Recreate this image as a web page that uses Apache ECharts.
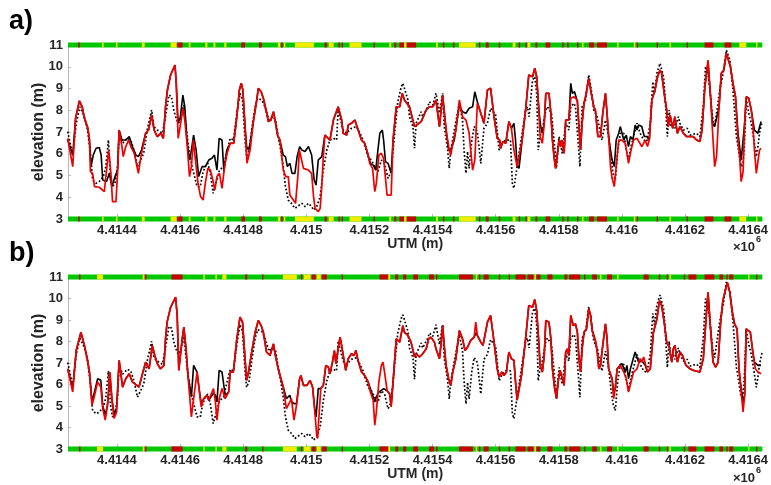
<!DOCTYPE html>
<html><head><meta charset="utf-8">
<script src="https://cdn.jsdelivr.net/npm/echarts@6/dist/echarts.min.js"></script>
<style>html,body{margin:0;padding:0;background:#fff}#c{width:771px;height:485px}</style>
</head><body><div id="c"></div>
<script>
// [UTM northing (m), elevation (m)]
// reference profile (dotted black, same in both panels)
const refDotted = [
[4414244,7.02],[4414260,5.94],[4414271,7.40],[4414283,8.16],[4414297,7.70],[4414307,7.09],[4414315,6.17],[4414323,4.79],[4414334,4.64],[4414344,4.72],
[4414357,4.95],[4414365,5.41],[4414373,6.63],[4414379,5.10],[4414386,4.49],[4414394,4.64],[4414402,5.41],[4414407,6.94],[4414418,6.48],[4414433,6.71],
[4414444,6.63],[4414454,6.17],[4414465,5.41],[4414475,5.71],[4414485,6.02],[4414496,7.09],[4414510,8.01],[4414517,7.25],[4414528,7.09],[4414544,6.94],
[4414554,7.70],[4414565,8.70],[4414573,8.62],[4414580,8.01],[4414586,7.70],[4414594,7.40],[4414601,7.55],[4414612,8.24],[4414619,7.25],[4414628,6.17],
[4414638,5.41],[4414654,4.49],[4414664,4.49],[4414672,5.10],[4414680,5.41],[4414688,5.56],[4414696,5.10],[4414705,4.18],[4414714,4.64],[4414725,5.25],
[4414738,5.41],[4414745,5.87],[4414759,6.71],[4414769,6.63],[4414780,7.86],[4414790,8.78],[4414798,8.47],[4414806,6.63],[4414811,5.87],[4414819,6.17],
[4414827,7.09],[4414838,8.16],[4414846,8.55],[4414859,8.47],[4414869,8.16],[4414882,7.55],[4414892,7.70],[4414903,7.55],[4414911,6.79],[4414919,6.17],
[4414927,5.41],[4414934,4.49],[4414943,3.87],[4414953,3.72],[4414964,3.49],[4414986,3.72],[4414996,3.57],[4415007,3.72],[4415017,3.57],[4415023,3.41],
[4415033,3.57],[4415044,4.03],[4415054,5.25],[4415065,6.17],[4415075,6.63],[4415086,6.71],[4415096,6.63],[4415101,8.01],[4415107,7.93],[4415117,7.09],
[4415128,6.94],[4415143,7.17],[4415159,7.25],[4415170,6.94],[4415180,6.63],[4415196,5.87],[4415206,5.71],[4415217,5.41],[4415227,5.18],[4415238,5.71],
[4415248,5.56],[4415259,4.87],[4415269,5.18],[4415280,6.94],[4415290,8.39],[4415301,9.08],[4415306,9.24],[4415311,9.01],[4415322,8.47],[4415327,7.70],
[4415338,7.25],[4415343,6.25],[4415348,7.40],[4415364,7.93],[4415369,7.70],[4415385,8.16],[4415390,8.39],[4415401,8.24],[4415411,8.78],[4415422,7.86],
[4415432,8.78],[4415437,7.25],[4415448,6.17],[4415453,5.33],[4415458,6.17],[4415469,7.09],[4415485,8.32],[4415495,7.55],[4415500,6.17],[4415506,5.10],
[4415511,6.10],[4415516,5.33],[4415524,6.56],[4415532,7.25],[4415542,7.02],[4415553,5.56],[4415563,7.17],[4415574,7.40],[4415584,8.09],[4415600,7.78],
[4415611,6.17],[4415621,6.48],[4415632,6.63],[4415647,6.63],[4415653,4.64],[4415658,4.41],[4415668,5.41],[4415684,6.94],[4415695,8.01],[4415701,8.16],
[4415706,7.70],[4415717,9.39],[4415724,9.54],[4415730,8.78],[4415735,6.17],[4415741,6.79],[4415748,7.09],[4415759,8.01],[4415764,8.16],[4415777,7.86],
[4415785,6.63],[4415793,5.41],[4415801,6.79],[4415811,6.02],[4415822,7.40],[4415832,7.09],[4415838,8.16],[4415848,8.32],[4415853,8.16],[4415861,6.63],
[4415867,5.41],[4415874,8.16],[4415885,8.47],[4415895,9.62],[4415903,8.93],[4415911,8.01],[4415922,7.70],[4415930,7.09],[4415937,6.63],[4415948,7.55],
[4415958,6.79],[4415966,5.71],[4415972,5.10],[4415979,4.79],[4415987,6.17],[4415995,6.94],[4416006,6.94],[4416014,6.17],[4416021,5.71],[4416029,6.33],
[4416037,6.79],[4416048,7.40],[4416058,6.94],[4416069,6.63],[4416079,6.56],[4416090,7.40],[4416098,9.31],[4416103,8.78],[4416111,9.70],[4416121,10.16],
[4416132,9.54],[4416137,8.62],[4416144,6.79],[4416150,8.01],[4416155,7.25],[4416163,7.40],[4416168,7.17],[4416179,7.70],[4416184,7.40],[4416195,7.09],
[4416207,7.17],[4416216,6.86],[4416237,6.94],[4416247,6.79],[4416258,8.16],[4416265,10.00],[4416273,9.70],[4416281,8.62],[4416287,7.70],[4416294,7.25],
[4416300,7.32],[4416310,8.93],[4416321,9.70],[4416331,10.77],[4416342,10.31],[4416352,8.93],[4416363,6.79],[4416368,6.33],[4416378,5.41],[4416384,5.56],
[4416389,6.63],[4416394,8.55],[4416402,7.86],[4416410,7.40],[4416420,6.48],[4416426,5.87],[4416431,6.33],[4416436,6.94],[4416444,7.48]];

// panel a, black solid
const blackA = [
[4414244,6.65],[4414260,5.94],[4414269,7.63],[4414281,8.43],[4414290,8.16],[4414297,7.63],[4414308,7.17],[4414313,6.63],[4414318,5.41],[4414325,5.94],
[4414334,6.25],[4414344,6.29],[4414350,5.94],[4414355,4.79],[4414367,4.72],[4414376,5.10],[4414384,4.49],[4414394,4.95],[4414402,5.25],[4414407,7.09],
[4414416,6.63],[4414428,6.63],[4414439,6.79],[4414449,6.33],[4414460,5.94],[4414468,5.87],[4414478,6.17],[4414491,6.94],[4414500,7.09],[4414510,7.78],
[4414518,7.09],[4414528,6.79],[4414539,6.94],[4414547,6.71],[4414554,8.16],[4414560,8.93],[4414570,9.62],[4414575,9.70],[4414584,10.08],[4414588,9.24],
[4414594,7.40],[4414601,7.70],[4414609,8.70],[4414615,8.16],[4414622,6.63],[4414630,5.71],[4414636,6.17],[4414643,6.86],[4414651,6.17],[4414659,4.95],
[4414670,5.41],[4414680,5.41],[4414691,5.71],[4414701,5.79],[4414709,5.94],[4414717,5.25],[4414724,6.71],[4414733,6.63],[4414739,5.18],[4414748,6.17],
[4414759,6.48],[4414770,6.48],[4414780,7.70],[4414788,8.93],[4414794,9.24],[4414799,8.93],[4414806,7.25],[4414811,6.33],[4414817,6.17],[4414822,6.48],
[4414833,7.55],[4414843,8.47],[4414848,9.01],[4414857,8.85],[4414864,8.55],[4414872,8.01],[4414880,7.48],[4414888,7.55],[4414896,7.93],[4414901,7.55],
[4414909,6.86],[4414916,6.63],[4414927,5.94],[4414934,5.87],[4414940,5.41],[4414948,5.56],[4414955,5.10],[4414964,5.10],[4414971,5.87],[4414979,6.33],
[4414986,6.17],[4414996,6.10],[4415007,6.33],[4415017,5.94],[4415025,4.79],[4415031,4.56],[4415038,5.71],[4415049,5.87],[4415059,6.86],[4415065,6.94],
[4415075,6.63],[4415086,7.55],[4415101,8.16],[4415107,8.24],[4415112,7.55],[4415117,6.94],[4415128,6.86],[4415133,7.32],[4415143,7.40],[4415154,7.55],
[4415159,7.32],[4415175,6.63],[4415185,6.48],[4415196,5.94],[4415203,5.56],[4415212,5.48],[4415220,5.25],[4415227,6.17],[4415233,6.94],[4415241,7.09],
[4415245,6.63],[4415251,5.64],[4415259,5.56],[4415269,5.10],[4415275,6.63],[4415285,8.16],[4415296,8.16],[4415304,8.78],[4415311,8.47],[4415317,8.39],
[4415327,8.16],[4415332,7.86],[4415343,7.25],[4415348,7.32],[4415364,7.48],[4415380,8.01],[4415390,8.16],[4415401,8.16],[4415411,8.47],[4415422,7.25],
[4415432,8.70],[4415443,7.09],[4415451,6.17],[4415458,6.17],[4415469,6.63],[4415485,8.24],[4415495,7.93],[4415506,7.86],[4415516,8.09],[4415527,8.16],
[4415534,8.85],[4415542,8.39],[4415553,7.86],[4415563,7.40],[4415574,8.93],[4415584,9.01],[4415595,7.70],[4415605,6.71],[4415613,6.63],[4415616,6.25],
[4415623,6.56],[4415632,6.48],[4415642,7.48],[4415650,7.17],[4415658,7.40],[4415663,6.63],[4415668,5.48],[4415674,5.33],[4415684,6.63],[4415695,8.01],
[4415705,9.62],[4415709,9.70],[4415717,9.54],[4415724,9.93],[4415730,9.54],[4415738,7.86],[4415743,7.25],[4415748,6.94],[4415754,7.40],[4415759,8.78],
[4415769,8.78],[4415775,7.86],[4415780,6.63],[4415785,5.87],[4415790,5.33],[4415796,5.25],[4415801,6.63],[4415806,6.33],[4415811,6.63],[4415817,6.02],
[4415822,7.55],[4415832,7.55],[4415838,9.24],[4415843,8.78],[4415850,8.85],[4415859,8.39],[4415864,7.25],[4415869,6.17],[4415874,7.40],[4415880,8.32],
[4415885,8.62],[4415895,9.47],[4415903,8.78],[4415911,8.16],[4415916,8.01],[4415924,6.79],[4415932,6.79],[4415940,7.93],[4415948,8.78],[4415953,7.86],
[4415958,6.79],[4415964,6.17],[4415969,5.71],[4415976,5.41],[4415982,6.63],[4415990,6.94],[4415995,7.25],[4416006,6.63],[4416014,6.86],[4416021,6.33],
[4416027,6.79],[4416035,6.63],[4416042,7.32],[4416048,7.09],[4416053,7.32],[4416063,7.25],[4416071,6.79],[4416079,6.79],[4416087,6.63],[4416095,8.47],
[4416105,8.93],[4416113,9.54],[4416121,9.85],[4416126,9.70],[4416134,8.78],[4416142,8.01],[4416147,7.25],[4416153,7.78],[4416161,7.17],[4416168,7.70],
[4416176,6.94],[4416184,7.25],[4416195,6.94],[4416205,6.79],[4416226,6.79],[4416237,6.63],[4416247,6.56],[4416254,7.09],[4416263,9.08],[4416273,10.2],
[4416281,8.62],[4416287,7.40],[4416294,7.25],[4416300,7.17],[4416308,8.16],[4416315,9.70],[4416323,9.85],[4416331,10.62],[4416336,10.69],[4416344,10.00],
[4416352,9.24],[4416360,8.62],[4416368,6.94],[4416378,5.71],[4416384,5.71],[4416389,7.40],[4416394,8.62],[4416402,8.55],[4416410,8.01],[4416415,7.55],
[4416420,7.09],[4416431,6.94],[4416441,7.48]];

// panel a, red solid
const redA = [
[4414244,6.71],[4414260,5.41],[4414269,7.63],[4414281,8.43],[4414290,8.16],[4414297,7.63],[4414308,7.17],[4414313,6.63],[4414316,5.18],[4414323,5.10],
[4414329,4.49],[4414344,4.46],[4414360,4.26],[4414365,4.26],[4414374,6.17],[4414381,5.10],[4414386,3.80],[4414397,3.80],[4414402,5.10],[4414407,7.09],
[4414416,6.33],[4414420,5.87],[4414428,6.33],[4414437,6.63],[4414444,6.33],[4414455,6.02],[4414468,5.10],[4414476,5.87],[4414491,6.94],[4414500,7.09],
[4414510,7.78],[4414518,7.09],[4414528,6.79],[4414539,6.94],[4414547,6.71],[4414554,8.16],[4414560,8.93],[4414570,9.62],[4414575,9.70],[4414584,10.08],
[4414588,9.24],[4414594,6.71],[4414602,7.40],[4414609,8.09],[4414615,7.55],[4414623,6.33],[4414630,4.95],[4414636,5.41],[4414642,6.63],[4414649,5.71],
[4414657,4.64],[4414665,4.03],[4414673,3.87],[4414680,4.64],[4414688,5.33],[4414696,5.25],[4414704,4.79],[4414710,4.33],[4414717,4.95],[4414725,5.10],
[4414733,4.41],[4414741,5.41],[4414749,6.02],[4414759,6.48],[4414770,6.48],[4414780,7.70],[4414788,8.93],[4414794,9.24],[4414799,8.93],[4414806,7.25],
[4414812,5.56],[4414817,5.48],[4414822,6.17],[4414833,7.55],[4414843,8.47],[4414848,9.01],[4414857,8.85],[4414864,8.55],[4414873,8.01],[4414880,7.48],
[4414888,7.55],[4414896,7.93],[4414901,7.55],[4414909,6.86],[4414917,6.63],[4414927,5.25],[4414935,4.95],[4414943,4.95],[4414948,4.10],[4414959,3.87],
[4414966,3.72],[4414974,5.10],[4414978,6.17],[4414991,5.33],[4415007,5.25],[4415017,5.10],[4415023,4.03],[4415028,3.49],[4415038,3.34],[4415044,3.49],
[4415049,4.49],[4415054,5.87],[4415059,6.86],[4415065,6.94],[4415075,6.63],[4415086,7.55],[4415101,8.16],[4415107,8.24],[4415112,7.55],[4415117,6.94],
[4415128,6.86],[4415133,7.32],[4415143,7.40],[4415154,7.55],[4415159,7.32],[4415175,6.63],[4415185,6.48],[4415196,5.94],[4415201,5.56],[4415210,5.33],
[4415217,4.26],[4415222,4.64],[4415230,5.94],[4415238,6.02],[4415245,5.79],[4415256,4.10],[4415269,4.10],[4415275,6.63],[4415285,8.16],[4415296,8.16],
[4415304,8.78],[4415311,8.47],[4415317,8.39],[4415327,8.16],[4415332,7.86],[4415343,7.25],[4415348,7.32],[4415364,7.48],[4415380,8.01],[4415390,8.16],
[4415401,8.16],[4415411,8.47],[4415422,7.25],[4415432,8.70],[4415443,7.09],[4415453,6.17],[4415458,5.94],[4415464,6.48],[4415474,7.09],[4415485,8.47],
[4415495,7.70],[4415506,7.55],[4415516,6.94],[4415527,5.25],[4415534,5.71],[4415542,8.32],[4415553,7.86],[4415563,7.40],[4415574,8.93],[4415584,9.01],
[4415595,7.70],[4415605,6.71],[4415613,6.63],[4415616,6.25],[4415623,6.56],[4415632,6.48],[4415642,7.48],[4415650,7.17],[4415658,6.17],[4415668,5.41],
[4415674,5.33],[4415684,6.63],[4415695,8.01],[4415705,9.62],[4415709,9.70],[4415717,9.54],[4415724,9.93],[4415730,9.54],[4415736,8.16],[4415741,6.79],
[4415748,6.48],[4415754,7.40],[4415759,8.78],[4415769,8.78],[4415775,7.86],[4415780,6.63],[4415785,5.87],[4415790,5.33],[4415796,5.25],[4415801,6.63],
[4415806,6.33],[4415811,6.63],[4415817,6.02],[4415822,7.55],[4415832,7.55],[4415838,8.55],[4415848,8.62],[4415859,8.47],[4415864,7.25],[4415869,6.17],
[4415874,7.40],[4415880,8.32],[4415885,8.62],[4415895,9.47],[4415903,8.78],[4415911,8.16],[4415916,8.01],[4415924,6.79],[4415932,6.79],[4415940,7.93],
[4415948,8.78],[4415953,7.86],[4415958,6.79],[4415964,5.41],[4415969,4.87],[4415976,4.49],[4415982,5.41],[4415990,6.63],[4416000,6.63],[4416011,6.48],
[4416016,6.02],[4416021,5.56],[4416029,6.17],[4416037,6.63],[4416048,6.71],[4416063,6.33],[4416074,6.63],[4416081,6.33],[4416087,6.63],[4416095,8.47],
[4416105,8.93],[4416113,9.54],[4416121,9.85],[4416126,9.70],[4416134,8.78],[4416142,8.01],[4416147,7.25],[4416153,7.78],[4416161,7.17],[4416168,7.70],
[4416176,6.94],[4416184,7.25],[4416195,6.94],[4416205,6.79],[4416226,6.79],[4416237,6.63],[4416247,6.56],[4416254,7.09],[4416263,9.08],[4416273,10.31],
[4416281,8.62],[4416287,7.09],[4416294,5.41],[4416300,5.87],[4416308,8.16],[4416315,9.70],[4416323,9.85],[4416331,10.62],[4416336,10.69],[4416344,10.00],
[4416352,9.24],[4416360,8.62],[4416368,6.63],[4416373,5.87],[4416378,4.72],[4416384,5.18],[4416389,7.40],[4416394,8.62],[4416402,8.55],[4416410,8.01],
[4416415,7.40],[4416420,6.17],[4416426,5.10],[4416431,5.02],[4416436,6.17],[4416441,6.25]];

// panel b, black solid
const blackB = [
[4414244,6.73],[4414260,5.80],[4414271,7.58],[4414286,8.43],[4414297,7.82],[4414307,7.12],[4414313,6.58],[4414321,5.20],[4414328,5.60],[4414339,6.27],
[4414349,6.20],[4414355,5.00],[4414363,4.60],[4414370,5.03],[4414378,6.40],[4414384,5.34],[4414391,4.60],[4414399,4.90],[4414407,7.12],[4414418,5.88],
[4414428,6.27],[4414439,6.50],[4414449,6.12],[4414470,5.88],[4414481,6.50],[4414491,7.04],[4414502,6.73],[4414512,7.82],[4414520,7.35],[4414528,6.97],
[4414538,6.73],[4414549,6.89],[4414554,8.13],[4414559,8.90],[4414570,9.59],[4414575,9.67],[4414586,10.06],[4414591,9.21],[4414596,6.66],[4414607,8.13],
[4414612,8.67],[4414619,7.66],[4414625,6.42],[4414636,5.42],[4414643,6.89],[4414654,6.58],[4414659,5.96],[4414667,5.10],[4414675,5.34],[4414685,5.50],
[4414691,5.27],[4414706,5.60],[4414712,5.50],[4414717,5.19],[4414724,6.66],[4414733,6.58],[4414743,5.50],[4414754,5.65],[4414759,6.58],[4414769,6.58],
[4414780,8.13],[4414790,9.13],[4414798,8.90],[4414806,7.20],[4414811,6.19],[4414817,6.58],[4414827,7.51],[4414838,8.43],[4414848,8.98],[4414857,8.74],
[4414864,8.43],[4414874,7.51],[4414885,7.35],[4414896,7.89],[4414901,7.43],[4414911,6.73],[4414927,5.88],[4414937,5.34],[4414948,5.50],[4414953,5.20],
[4414961,5.11],[4414969,5.11],[4414979,6.27],[4414983,6.42],[4414991,5.96],[4415002,5.96],[4415012,6.19],[4415020,5.88],[4415028,4.72],[4415031,4.49],
[4415038,5.81],[4415046,5.81],[4415054,5.96],[4415062,6.89],[4415070,6.81],[4415075,6.50],[4415083,7.04],[4415089,7.58],[4415094,6.97],[4415101,7.66],
[4415107,8.20],[4415112,7.82],[4415117,7.35],[4415125,6.66],[4415133,7.20],[4415143,7.43],[4415151,7.35],[4415157,7.58],[4415164,7.12],[4415175,6.58],
[4415185,6.42],[4415196,6.12],[4415203,5.81],[4415212,5.42],[4415217,5.19],[4415222,5.42],[4415230,5.65],[4415238,5.73],[4415245,5.81],[4415254,5.73],
[4415264,5.57],[4415269,5.03],[4415275,6.12],[4415285,8.13],[4415296,7.97],[4415306,8.74],[4415311,8.43],[4415322,8.28],[4415332,7.97],[4415343,7.28],
[4415348,7.43],[4415359,7.28],[4415369,7.43],[4415380,7.66],[4415388,8.13],[4415395,8.20],[4415406,7.97],[4415411,7.66],[4415422,7.20],[4415427,7.89],
[4415432,8.74],[4415437,7.82],[4415443,6.89],[4415451,6.27],[4415458,5.96],[4415464,6.58],[4415474,7.20],[4415485,8.51],[4415495,8.13],[4415503,7.58],
[4415511,7.74],[4415521,8.05],[4415532,8.20],[4415537,8.40],[4415542,8.28],[4415553,7.97],[4415560,7.82],[4415574,8.90],[4415584,9.21],[4415595,7.97],
[4415605,6.73],[4415611,6.35],[4415619,6.58],[4415626,6.42],[4415634,6.58],[4415642,7.51],[4415650,7.20],[4415658,7.12],[4415663,6.12],[4415668,5.27],
[4415674,5.34],[4415682,6.42],[4415695,8.13],[4415705,9.67],[4415709,9.67],[4415717,9.59],[4415724,9.95],[4415730,9.44],[4415736,8.13],[4415741,6.89],
[4415748,6.58],[4415754,7.35],[4415759,8.98],[4415769,8.90],[4415775,8.13],[4415780,6.73],[4415787,5.81],[4415793,5.34],[4415798,6.12],[4415804,6.66],
[4415809,6.58],[4415817,5.96],[4415822,7.51],[4415827,7.66],[4415832,7.35],[4415838,9.21],[4415846,8.74],[4415853,8.82],[4415859,8.43],[4415864,7.20],
[4415869,6.58],[4415874,7.66],[4415880,8.43],[4415888,8.59],[4415895,9.52],[4415901,9.21],[4415906,8.51],[4415916,8.05],[4415922,7.51],[4415927,6.73],
[4415932,6.89],[4415940,7.89],[4415948,8.82],[4415953,8.13],[4415958,6.73],[4415969,6.27],[4415974,5.60],[4415979,5.81],[4415985,6.73],[4415990,6.73],
[4416000,6.97],[4416011,6.58],[4416016,6.89],[4416021,6.27],[4416027,6.73],[4416032,6.73],[4416042,7.51],[4416053,7.04],[4416063,7.12],[4416074,6.89],
[4416081,6.58],[4416090,6.73],[4416100,8.43],[4416111,9.05],[4416119,9.90],[4416126,9.67],[4416134,8.90],[4416142,7.97],[4416150,7.74],[4416158,7.04],
[4416163,7.66],[4416168,7.82],[4416176,7.04],[4416184,7.51],[4416192,7.35],[4416203,6.89],[4416216,6.73],[4416226,6.66],[4416247,6.58],[4416258,7.20],
[4416266,8.90],[4416273,10.29],[4416281,8.59],[4416289,7.04],[4416297,6.81],[4416305,7.04],[4416313,8.90],[4416320,9.90],[4416329,10.44],[4416334,10.75],
[4416342,10.29],[4416350,9.36],[4416357,8.82],[4416365,8.59],[4416371,6.73],[4416378,5.81],[4416384,5.19],[4416389,5.50],[4416394,8.59],[4416399,8.51],
[4416407,8.43],[4416415,7.51],[4416420,7.04],[4416431,6.89],[4416441,6.89]];

// panel b, red solid
const redB = [
[4414244,6.73],[4414260,5.65],[4414271,7.58],[4414286,8.43],[4414297,7.82],[4414307,7.12],[4414313,6.58],[4414321,5.03],[4414328,5.42],[4414339,6.12],
[4414349,5.88],[4414355,4.88],[4414363,4.34],[4414370,5.03],[4414378,6.58],[4414384,5.34],[4414391,4.42],[4414399,4.72],[4414407,7.12],[4414418,5.88],
[4414428,6.27],[4414439,6.50],[4414449,6.12],[4414470,5.88],[4414481,6.50],[4414491,7.04],[4414502,6.73],[4414512,7.82],[4414520,7.35],[4414528,6.97],
[4414538,6.73],[4414549,6.89],[4414554,8.13],[4414559,8.90],[4414570,9.59],[4414575,9.67],[4414586,10.06],[4414591,9.21],[4414596,6.66],[4414607,8.13],
[4414612,8.67],[4414619,7.66],[4414625,6.42],[4414636,4.49],[4414643,5.34],[4414654,6.58],[4414659,5.96],[4414667,4.96],[4414675,5.34],[4414685,5.50],
[4414691,5.27],[4414706,5.81],[4414712,5.19],[4414717,4.34],[4414724,5.34],[4414733,5.81],[4414743,5.34],[4414754,5.65],[4414759,6.58],[4414769,6.58],
[4414780,8.13],[4414790,9.13],[4414798,8.90],[4414806,7.20],[4414811,6.19],[4414817,6.58],[4414827,7.51],[4414838,8.43],[4414848,8.98],[4414857,8.74],
[4414864,8.43],[4414874,7.51],[4414885,7.35],[4414896,7.89],[4414901,7.43],[4414911,6.73],[4414927,5.88],[4414937,4.88],[4414948,5.19],[4414953,5.34],
[4414961,4.34],[4414969,5.03],[4414979,6.27],[4414983,6.42],[4414991,5.96],[4415002,5.96],[4415012,6.19],[4415020,5.88],[4415028,4.57],[4415033,3.64],
[4415036,3.49],[4415041,4.72],[4415046,5.81],[4415054,5.96],[4415062,6.89],[4415070,6.81],[4415075,6.50],[4415083,7.04],[4415089,7.58],[4415094,6.97],
[4415101,7.66],[4415107,8.20],[4415112,7.82],[4415117,7.35],[4415125,6.66],[4415133,7.20],[4415143,7.43],[4415151,7.35],[4415157,7.58],[4415164,7.12],
[4415175,6.58],[4415185,6.42],[4415196,6.12],[4415203,5.65],[4415212,5.27],[4415217,4.11],[4415222,4.72],[4415230,6.12],[4415238,6.89],[4415243,7.04],
[4415248,6.58],[4415256,5.73],[4415264,5.57],[4415269,4.96],[4415275,6.12],[4415285,8.13],[4415296,7.97],[4415306,8.74],[4415311,8.43],[4415322,8.28],
[4415332,7.97],[4415343,7.28],[4415348,7.43],[4415359,7.28],[4415369,7.43],[4415380,7.66],[4415388,8.13],[4415395,8.20],[4415406,7.97],[4415411,7.66],
[4415422,7.20],[4415427,7.89],[4415432,8.74],[4415437,7.82],[4415443,6.89],[4415451,6.27],[4415458,5.96],[4415464,6.58],[4415474,7.20],[4415485,8.51],
[4415495,8.13],[4415503,7.58],[4415511,7.74],[4415521,8.05],[4415532,8.20],[4415537,8.90],[4415542,8.28],[4415553,7.97],[4415560,7.82],[4415574,8.90],
[4415584,9.21],[4415595,7.97],[4415605,6.73],[4415611,6.35],[4415619,6.58],[4415626,6.42],[4415634,6.58],[4415642,7.51],[4415650,7.20],[4415658,7.12],
[4415663,6.12],[4415668,5.27],[4415674,5.34],[4415682,6.42],[4415695,8.13],[4415705,9.67],[4415709,9.67],[4415717,9.59],[4415724,9.95],[4415730,9.44],
[4415736,8.13],[4415741,6.89],[4415748,6.58],[4415754,7.35],[4415759,8.98],[4415769,8.90],[4415775,8.13],[4415780,6.73],[4415787,5.81],[4415793,5.34],
[4415798,6.12],[4415804,6.66],[4415809,6.58],[4415817,5.96],[4415822,7.51],[4415827,7.66],[4415832,7.35],[4415838,9.21],[4415846,8.74],[4415853,8.82],
[4415859,8.43],[4415864,7.20],[4415869,6.58],[4415874,7.66],[4415880,8.43],[4415888,8.59],[4415895,9.52],[4415901,9.21],[4415906,8.51],[4415916,8.05],
[4415922,7.51],[4415927,6.73],[4415932,6.89],[4415940,7.89],[4415948,8.82],[4415953,8.13],[4415958,6.73],[4415969,6.27],[4415974,5.34],[4415979,5.81],
[4415985,6.73],[4415995,6.89],[4416006,6.58],[4416014,6.27],[4416021,5.65],[4416029,6.12],[4416037,6.58],[4416048,6.73],[4416058,7.20],[4416063,7.04],
[4416069,7.28],[4416081,6.58],[4416090,6.73],[4416100,8.43],[4416111,9.05],[4416119,9.90],[4416126,9.67],[4416134,8.90],[4416142,7.97],[4416150,7.74],
[4416158,7.04],[4416163,7.66],[4416168,7.82],[4416176,7.04],[4416184,7.51],[4416192,7.35],[4416203,6.89],[4416216,6.73],[4416226,6.66],[4416247,6.58],
[4416258,7.20],[4416266,8.90],[4416273,10.29],[4416281,8.59],[4416289,7.04],[4416297,6.81],[4416305,7.04],[4416313,8.90],[4416320,9.90],[4416329,10.44],
[4416334,10.75],[4416342,10.29],[4416350,9.36],[4416357,8.82],[4416365,8.59],[4416371,6.73],[4416378,5.65],[4416384,4.72],[4416389,5.50],[4416394,8.59],
[4416399,8.51],[4416407,8.43],[4416415,7.51],[4416423,6.73],[4416431,6.58],[4416441,6.50]];

// classification bands: [start, end, class]  (background class is green)
const bandA = [
[4414277,4414282,'r'],[4414353,4414358,'y'],[4414397,4414402,'y'],[4414479,4414488,'y'],
[4414570,4414589,'y'],[4414591,4414608,'r'],[4414628,4414633,'y'],[4414680,4414687,'y'],
[4414706,4414712,'y'],[4414740,4414747,'y'],[4414794,4414806,'r'],[4414850,4414859,'r'],
[4414910,4414917,'y'],[4414920,4414926,'r'],[4414929,4414932,'y'],[4414964,4415024,'y'],
[4415058,4415065,'r'],[4415071,4415087,'y'],[4415102,4415106,'r'],[4415112,4415115,'r'],
[4415137,4415175,'y'],[4415213,4415216,'r'],[4415263,4415269,'y'],[4415279,4415285,'r'],
[4415295,4415310,'r'],[4415310,4415318,'y'],[4415318,4415348,'r'],[4415411,4415417,'y'],
[4415433,4415436,'r'],[4415465,4415468,'r'],[4415484,4415537,'y'],[4415547,4415550,'r'],
[4415569,4415578,'r'],[4415610,4415613,'r'],[4415654,4415663,'y'],[4415673,4415676,'r'],
[4415695,4415698,'r'],[4415701,4415710,'y'],[4415726,4415732,'r'],[4415758,4415773,'r'],
[4415811,4415814,'r'],[4415827,4415830,'r'],[4415858,4415862,'r'],[4415874,4415877,'y'],
[4415896,4415912,'r'],[4415921,4415953,'r'],[4415985,4415988,'y'],[4416038,4416041,'y'],
[4416047,4416051,'r'],[4416110,4416114,'r'],[4416151,4416155,'y'],[4416205,4416208,'r'],
[4416262,4416290,'r'],[4416325,4416347,'r'],[4416372,4416394,'y'],[4416425,4416429,'y']];
const bandB = [
[4414280,4414284,'r'],[4414337,4414356,'y'],[4414482,4414488,'y'],[4414488,4414494,'r'],
[4414573,4414608,'r'],[4414674,4414677,'y'],[4414712,4414715,'y'],[4414734,4414747,'y'],
[4414806,4414813,'r'],[4414860,4414863,'r'],[4414926,4414970,'y'],[4414983,4414986,'r'],
[4414992,4415014,'y'],[4415017,4415030,'r'],[4415033,4415046,'y'],[4415049,4415065,'r'],
[4415112,4415115,'r'],[4415232,4415260,'r'],[4415260,4415266,'y'],[4415282,4415291,'r'],
[4415307,4415317,'r'],[4415339,4415354,'r'],[4415389,4415405,'r'],[4415411,4415414,'r'],
[4415484,4415528,'r'],[4415537,4415540,'y'],[4415547,4415550,'r'],[4415562,4415578,'r'],
[4415610,4415613,'r'],[4415641,4415644,'r'],[4415663,4415695,'r'],[4415701,4415720,'r'],
[4415723,4415726,'y'],[4415729,4415742,'r'],[4415764,4415780,'r'],[4415818,4415827,'r'],
[4415833,4415868,'r'],[4415880,4415884,'r'],[4415906,4415921,'r'],[4415931,4415934,'y'],
[4415953,4415969,'r'],[4415985,4415988,'y'],[4416069,4416085,'r'],[4416117,4416120,'r'],
[4416142,4416145,'r'],[4416151,4416155,'y'],[4416196,4416199,'r'],[4416211,4416236,'r'],
[4416262,4416293,'r'],[4416309,4416321,'r'],[4416331,4416334,'r'],[4416340,4416353,'r'],
[4416400,4416403,'y'],[4416425,4416429,'r']];

const xTicks = [4414400,4414600,4414800,4415000,4415200,4415400,4415600,4415800,4416000,4416200,4416400];
const X_MIN = 4414245, X_MAX = 4416445;
const Y_MIN = 3, Y_MAX = 11;

const FONT = "'Liberation Sans', Arial, Helvetica, sans-serif";
const TXT = '#262626';
const AX = '#b8b8b8';
const bandColor = {g:'#00c800', y:'#f4ec00', r:'#c80000'};

function bandData(segs){
  const all = [[X_MIN, X_MAX, 'g']].concat(segs);
  const d = [];
  [Y_MIN, Y_MAX].forEach(lv => all.forEach(s => d.push({value:[s[0], s[1], lv], itemStyle:{color: bandColor[s[2]]}})));
  return d;
}
function renderBand(params, api){
  const a = api.coord([api.value(0), api.value(2)]);
  const b = api.coord([api.value(1), api.value(2)]);
  return {type:'rect', shape:{x:a[0], y:a[1]-2.5, width:Math.max(b[0]-a[0], 1.4), height:5},
          style:{fill: api.visual('color')}};
}
function xAxis(gi){
  return {type:'value', gridIndex:gi, min:X_MIN, max:X_MAX,
    axisLine:{show:true, onZero:false, lineStyle:{color:AX, width:1}},
    axisTick:{show:true, inside:true, length:5, customValues:xTicks, lineStyle:{color:AX}},
    axisLabel:{customValues:xTicks, formatter:v=>String(+(v/1e6).toFixed(4)), color:TXT,
      fontFamily:FONT, fontWeight:'bold', fontSize:13, margin:5},
    splitLine:{show:false},
    name:'UTM (m)', nameLocation:'middle', nameGap:18, nameMoveOverlap:false,
    nameTextStyle:{color:TXT, fontFamily:FONT, fontWeight:'bold', fontSize:14}};
}
function yAxis(gi){
  return {type:'value', gridIndex:gi, min:Y_MIN, max:Y_MAX, interval:1,
    axisLine:{show:true, lineStyle:{color:AX, width:1}},
    axisTick:{show:true, inside:true, length:3, lineStyle:{color:AX}},
    axisLabel:{color:TXT, fontFamily:FONT, fontWeight:'bold', fontSize:13, margin:5},
    splitLine:{show:false},
    name:'elevation (m)', nameLocation:'middle', nameGap:21, nameRotate:90, nameMoveOverlap:false,
    nameTextStyle:{color:TXT, fontFamily:FONT, fontWeight:'bold', fontSize:16}};
}
function lines(gi, blk, red){
  const base = {type:'line', xAxisIndex:gi, yAxisIndex:gi, showSymbol:false, symbol:'none', smooth:false, silent:true, z:3};
  return [
    Object.assign({}, base, {data:refDotted, lineStyle:{color:'#000', width:1.7, type:[1.7,2.1]}}),
    Object.assign({}, base, {data:blk, lineStyle:{color:'#000', width:1.6}}),
    Object.assign({}, base, {data:red, lineStyle:{color:'#f00000', width:1.7}}),
    {type:'custom', xAxisIndex:gi, yAxisIndex:gi, renderItem:renderBand, encode:{x:[0,1], y:2},
     data:bandData(gi===0?bandA:bandB), clip:false, silent:true, z:5}
  ];
}

const chart = echarts.init(document.getElementById('c'), null, {renderer:'canvas'});
chart.setOption({
  animation:false,
  backgroundColor:'#fff',
  grid:[
    {left:68, top:45, width:698, height:174},
    {left:68, top:277, width:698, height:172}
  ],
  xAxis:[xAxis(0), xAxis(1)],
  yAxis:[yAxis(0), yAxis(1)],
  series:[].concat(lines(0, blackA, redA), lines(1, blackB, redB)),
  graphic:[
    {type:'text', left:9, top:8, style:{text:'a)', font:'bold 27px '+FONT, fill:'#000'}},
    {type:'text', left:9, top:240, style:{text:'b)', font:'bold 27px '+FONT, fill:'#000'}},
    {type:'text', left:733, top:241, style:{text:'×10', font:'bold 13px '+FONT, fill:TXT}},
    {type:'text', left:756, top:235, style:{text:'6', font:'bold 9px '+FONT, fill:TXT}},
    {type:'text', left:733, top:472, style:{text:'×10', font:'bold 13px '+FONT, fill:TXT}},
    {type:'text', left:756, top:466, style:{text:'6', font:'bold 9px '+FONT, fill:TXT}}
  ]
});
</script></body></html>
